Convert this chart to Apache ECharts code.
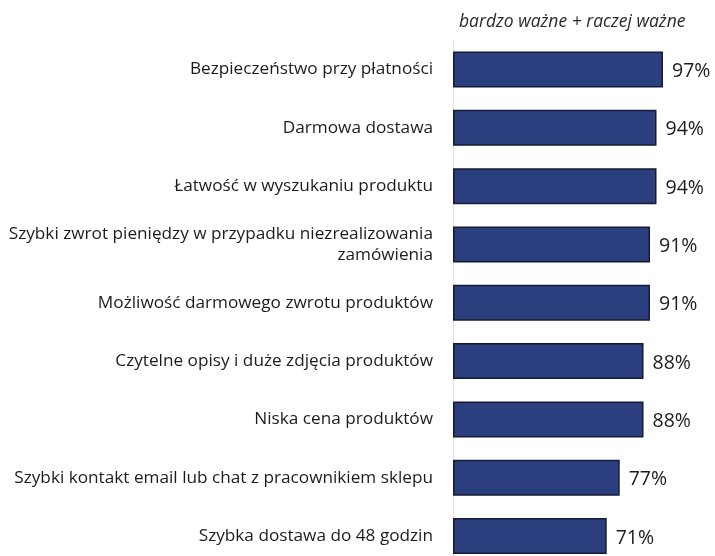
<!DOCTYPE html>
<html lang="pl">
<head>
<meta charset="UTF-8">
<title>Chart</title>
<script src="https://cdn.jsdelivr.net/npm/echarts@6/dist/echarts.min.js"></script>
<style>
  html, body { margin: 0; padding: 0; background: #fff; }
  #chart { width: 715px; height: 556px; }
</style>
</head>
<body>
<div id="chart"></div>
<script>
const categories = [
  'Bezpieczeństwo przy płatności',
  'Darmowa dostawa',
  'Łatwość w wyszukaniu produktu',
  'Szybki zwrot pieniędzy w przypadku niezrealizowania\nzamówienia',
  'Możliwość darmowego zwrotu produktów',
  'Czytelne opisy i duże zdjęcia produktów',
  'Niska cena produktów',
  'Szybki kontakt email lub chat z pracownikiem sklepu',
  'Szybka dostawa do 48 godzin'
]
const values = [97, 94, 94, 91, 91, 88, 88, 77, 71]
const header = 'bardzo ważne + raczej ważne'

const chart = echarts.init(document.getElementById('chart'))
chart.setOption({
  animation: false,
  title: {
    text: header,
    left: 454,
    top: 8,
    textStyle: {
      fontFamily: 'Open Sans',
      fontStyle: 'italic',
      fontWeight: 'normal',
      fontSize: 17.5,
      color: '#2a2a2a'
    }
  },
  grid: [{
    // bars: categories sit on ticks, first at y=69.5 and last at y=536
    left: 453,
    width: 216.5,
    top: 69.5,
    height: 466.5
  }, {
    // only for the thin vertical axis line
    left: 453,
    width: 216.5,
    top: 40,
    bottom: 0
  }],
  xAxis: [{
    type: 'value',
    min: 0,
    max: 100,
    show: false
  }, {
    type: 'value',
    gridIndex: 1,
    show: false
  }],
  yAxis: [{
    type: 'category',
    inverse: true,
    boundaryGap: false,
    data: categories,
    axisTick: { show: false },
    axisLine: { show: false },
    splitLine: { show: false },
    axisLabel: {
      margin: 20,
      fontFamily: 'Open Sans',
      fontSize: 17.2,
      color: '#1c1c1c',
      align: 'right',
      lineHeight: 21,
      padding: [5, 0, 0, 0]
    }
  }, {
    type: 'value',
    gridIndex: 1,
    axisLine: { show: true, lineStyle: { color: '#e2e2e2', width: 1 } },
    axisTick: { show: false },
    axisLabel: { show: false },
    splitLine: { show: false }
  }],
  series: [{
    type: 'bar',
    data: values,
    barWidth: 36,
    itemStyle: {
      color: '#2b3f7f',
      borderColor: '#161b33',
      borderWidth: 1.5
    },
    label: {
      show: true,
      position: 'right',
      distance: 9,
      offset: [0, 2],
      formatter: '{c}%',
      fontFamily: 'Open Sans',
      fontSize: 19.5,
      color: '#1c1c1c'
    }
  }]
})
</script>
</body>
</html>
